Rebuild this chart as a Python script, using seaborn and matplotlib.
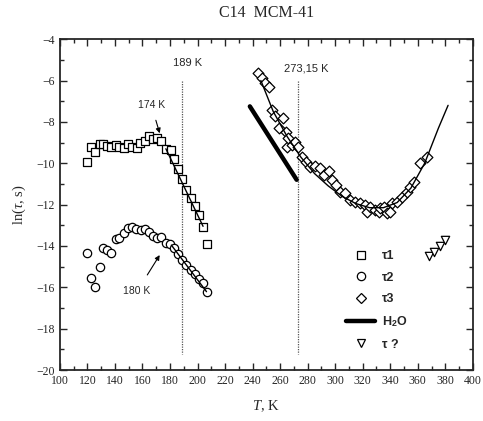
import matplotlib
matplotlib.use("Agg")
import matplotlib.pyplot as plt
import seaborn as sns
from matplotlib.lines import Line2D

# ---------------- data ----------------
t1_T = [119.8, 122.7, 125.6, 128.8, 131.2, 134.1, 137.3, 140.4, 143.3, 146.5, 149.6, 152.6,
        155.9, 158.4, 161.5, 164.7, 167.6, 170.5, 173.7, 176.8, 180.5, 182.9, 185.8, 189.0,
        191.9, 195.0, 198.0, 201.1, 204.0, 207.2]
t1_ln = [-9.93, -9.23, -9.45, -9.09, -9.07, -9.17, -9.20, -9.14, -9.20, -9.28, -9.07, -9.20,
         -9.28, -9.04, -8.91, -8.69, -8.85, -8.80, -8.93, -9.33, -9.36, -9.81, -10.30, -10.78,
         -11.27, -11.70, -12.07, -12.51, -13.07, -13.92]

t2_T = [120.0, 122.7, 125.6, 128.8, 131.2, 134.4, 137.3, 140.4, 143.3, 146.5, 149.4, 152.6,
        155.5, 158.6, 161.5, 164.7, 167.6, 170.5, 173.7, 176.8, 179.7, 182.9, 185.8, 189.0,
        191.9, 195.0, 198.0, 201.1, 204.0, 207.2]
t2_ln = [-14.33, -15.57, -15.97, -15.00, -14.12, -14.20, -14.33, -13.68, -13.63, -13.39, -13.15,
         -13.07, -13.20, -13.23, -13.20, -13.31, -13.52, -13.63, -13.58, -13.85, -13.92, -14.09,
         -14.40, -14.68, -14.92, -15.16, -15.36, -15.61, -15.81, -16.21]

t3_T = [244.1, 246.5, 248.9, 252.1, 253.8, 256.2, 259.4, 261.8, 264.2, 264.7, 265.9, 268.4,
        270.8, 273.2, 275.7, 278.8, 281.7, 285.4, 289.0, 292.1, 295.8, 297.5, 300.7, 303.6,
        307.2, 310.9, 314.5, 318.1, 321.8, 323.0, 325.4, 329.0, 331.5, 332.7, 335.1, 337.6,
        340.0, 341.2, 344.8, 348.5, 352.1, 354.5, 357.5, 361.3, 366.8]
t3_ln = [-5.63, -5.90, -6.14, -6.33, -7.43, -7.72, -8.32, -7.83, -8.48, -9.20, -8.80, -9.12,
         -8.96, -9.23, -9.69, -9.93, -10.17, -10.14, -10.25, -10.57, -10.38, -10.81, -11.06,
         -11.38, -11.46, -11.78, -11.86, -11.94, -12.02, -12.35, -12.10, -12.27, -12.35, -12.18,
         -12.10, -12.43, -12.35, -11.94, -11.86, -11.62, -11.38, -11.14, -10.90, -10.01, -9.70]

tq_T = [368.0, 372.0, 376.0, 380.0]
tq_ln = [-14.50, -14.30, -14.00, -13.70]

h2o_T = [238.0, 272.0]
h2o_ln = [-7.25, -10.80]

fit1_T = [177.0, 204.0]
fit1_ln = [-9.30, -13.05]
fit2_T = [181.0, 206.5]
fit2_ln = [-13.96, -16.21]
fit3_T = [246.0, 255.0, 265.0, 275.0, 285.0, 295.0, 305.0, 315.0, 325.0, 335.0, 345.0,
          355.0, 365.0, 375.0, 382.0]
fit3_ln = [-6.0, -7.5, -8.7, -9.7, -10.5, -11.1, -11.6, -11.95, -12.15, -12.15, -11.9,
           -11.2, -10.0, -8.3, -7.2]

vlines_T = [189.0, 273.15]
vline_labels = ["189 K", "273,15 K"]
legend_labels = ["τ1", "τ2", "τ3", "H$_\\mathbf{2}$O", "τ ?"]

# ---------------- style ----------------
sns.set_style("ticks")
plt.rcParams["font.family"] = ["Liberation Serif", "DejaVu Serif"]
plt.rcParams["mathtext.fontset"] = "custom"
plt.rcParams["mathtext.rm"] = "Liberation Serif"
plt.rcParams["mathtext.it"] = "Liberation Serif:italic"
plt.rcParams["mathtext.bf"] = "Liberation Sans:bold"

fig = plt.figure(figsize=(4.83, 4.21), dpi=100)
ax = fig.add_axes([0.124, 0.121, 0.855, 0.786])

mk = dict(facecolor="white", edgecolor="black", linewidth=0.9, legend=False, zorder=3)
sns.scatterplot(x=t1_T, y=t1_ln, marker="s", s=30, ax=ax, **mk)
sns.scatterplot(x=t2_T, y=t2_ln, marker="o", s=36, ax=ax, **mk)
sns.scatterplot(x=t3_T, y=t3_ln, marker="D", s=30, ax=ax, **mk)
sns.scatterplot(x=tq_T, y=tq_ln, marker="v", s=36, ax=ax, **mk)

sns.lineplot(x=fit1_T, y=fit1_ln, color="black", lw=1.0, ax=ax, zorder=4)
sns.lineplot(x=fit2_T, y=fit2_ln, color="black", lw=1.0, ax=ax, zorder=4)
sns.lineplot(x=fit3_T, y=fit3_ln, color="black", lw=1.0, ax=ax, zorder=4)
sns.lineplot(x=h2o_T, y=h2o_ln, color="black", lw=3.2, ax=ax, zorder=4)

for xv in vlines_T:
    ax.plot([xv, xv], [-6.0, -19.2], ls=(0, (1, 1)), color="#555555", lw=0.9, zorder=1)

ax.text(193, -5.15, vline_labels[0], ha="center", va="center", fontsize=8,
        family="Liberation Sans")
ax.text(279, -5.4, vline_labels[1], ha="center", va="center", fontsize=8,
        family="Liberation Sans")

ax.annotate("174 K", xy=(172.5, -8.55), xytext=(166.5, -7.2), ha="center", va="center",
            fontsize=7.5, family="Liberation Sans",
            arrowprops=dict(arrowstyle="-|>", color="black", lw=0.8, mutation_scale=7,
                            shrinkA=5, shrinkB=0))
ax.annotate("180 K", xy=(172.5, -14.44), xytext=(156, -16.2), ha="center", va="center",
            fontsize=7.5, family="Liberation Sans",
            arrowprops=dict(arrowstyle="-|>", color="black", lw=0.8, mutation_scale=7,
                            shrinkA=7, shrinkB=0))

ax.set_xlim(100, 400)
ax.set_ylim(-20, -4)
ax.set_xticks(range(100, 401, 20))
ax.set_xticks(range(110, 400, 20), minor=True)
ax.set_yticks(range(-20, -3, 2))
ax.set_yticks(range(-19, -4, 2), minor=True)
ax.tick_params(which="both", direction="in", top=True, right=True, labelsize=8.5)
ax.tick_params(which="major", length=5, width=1.0)
ax.tick_params(which="minor", length=3, width=1.0)
for sp in ax.spines.values():
    sp.set_linewidth(1.3)

ax.set_xlabel("$T$, K", fontsize=10.5, labelpad=8)
ax.set_ylabel("ln($\\tau$, s)", fontsize=10.5, labelpad=6)
ax.set_title("C14  MCM-41", fontsize=11.5, pad=16)

handles = [
    Line2D([], [], ls="none", marker="s", mfc="white", mec="black", ms=5.5, mew=0.9),
    Line2D([], [], ls="none", marker="o", mfc="white", mec="black", ms=6, mew=0.9),
    Line2D([], [], ls="none", marker="D", mfc="white", mec="black", ms=5, mew=0.9),
    Line2D([], [], color="black", lw=3.2),
    Line2D([], [], ls="none", marker="v", mfc="white", mec="black", ms=6, mew=0.9),
]
leg = ax.legend(handles, legend_labels, loc="lower right", bbox_to_anchor=(0.87, 0.025),
                frameon=False, handlelength=2.3, labelspacing=0.75, handletextpad=0.6,
                prop={"family": "Liberation Sans", "weight": "bold", "size": 9})

fig.savefig("out.png", dpi=100)
